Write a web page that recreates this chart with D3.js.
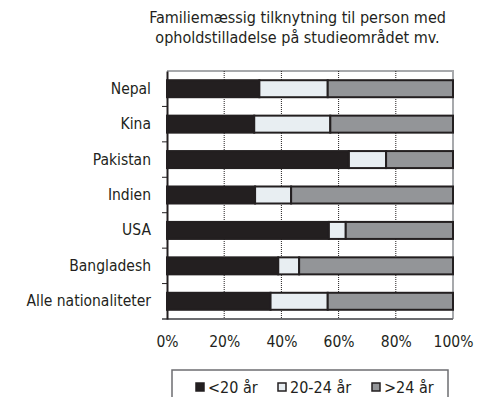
<!DOCTYPE html>
<html>
<head>
<meta charset="utf-8">
<script src="https://cdn.jsdelivr.net/npm/d3@7"></script>
<style>
  html, body { margin: 0; padding: 0; background: #fff; }
  svg { display: block; font-family: "DejaVu Sans Condensed", "DejaVu Sans", sans-serif; font-stretch: condensed; }
</style>
</head>
<body>
<svg id="chart" width="480" height="397"></svg>
<script>
// Nationality groups, top to bottom
const categories = ["Nepal", "Kina", "Pakistan", "Indien", "USA", "Bangladesh", "Alle nationaliteter"];
// Share (%) in each age group
const under20 = [32.3, 30.5, 63.6, 30.8, 56.6, 38.9, 36.2];
const age20to24 = [23.9, 26.6, 13.0, 12.6, 5.9, 7.3, 20.0];
const over24 = [43.8, 42.9, 23.4, 56.6, 37.5, 53.8, 43.8];
const seriesNames = ["<20 år", "20-24 år", ">24 år"];
const seriesColors = ["#231f20", "#e8eef2", "#939598"];
const xTicks = [0, 20, 40, 60, 80, 100];
const titleLines = ["Familiemæssig tilknytning til person med", "opholdstilladelse på studieområdet mv."];

const FONT = "'DejaVu Sans Condensed', 'DejaVu Sans', sans-serif";
const svg = d3.select("#chart");
const margin = { left: 167, right: 27, top: 71, bottom: 78 };
const W = 480, H = 397;
const innerW = W - margin.left - margin.right;
const innerH = H - margin.top - margin.bottom;

const rows = categories.map((c, i) => ({ cat: c, "<20 år": under20[i], "20-24 år": age20to24[i], ">24 år": over24[i] }));
const stack = d3.stack().keys(seriesNames)(rows);

const x = d3.scaleLinear().domain([0, 100]).range([margin.left, margin.left + innerW]);
const y = d3.scaleBand().domain(categories).range([margin.top, margin.top + innerH]).paddingInner(0.52).paddingOuter(0.26);
const yb = d3.scaleBand().domain(categories).range([margin.top, margin.top + innerH]);

// Title
svg.append("g").selectAll("text").data(titleLines).join("text")
  .attr("x", 297.5).attr("y", 23).attr("dy", (d, i) => i * 20)
  .attr("text-anchor", "middle").attr("font-size", 16).attr("fill", "#231f20")
  .text(d => d);

// Plot frame (top and right)
svg.append("path")
  .attr("d", `M${x(0)},${margin.top}H${x(100)}V${margin.top + innerH}`)
  .attr("fill", "none").attr("stroke", "#a7a9ac").attr("stroke-width", 2);

// Vertical dotted gridlines
svg.append("g").selectAll("line").data(xTicks.slice(1, -1)).join("line")
  .attr("x1", d => x(d)).attr("x2", d => x(d))
  .attr("y1", margin.top).attr("y2", margin.top + innerH)
  .attr("stroke", "#231f20").attr("stroke-width", 1).attr("stroke-dasharray", "1,1");

// Stacked bars
svg.append("g").selectAll("g").data(stack).join("g")
  .attr("fill", (d, i) => seriesColors[i])
  .selectAll("rect").data(d => d).join("rect")
  .attr("x", d => x(d[0])).attr("width", d => x(d[1]) - x(d[0]))
  .attr("y", d => y(d.data.cat)).attr("height", y.bandwidth())
  .attr("stroke", "#231f20").attr("stroke-width", 2);

// X axis
const xAxis = svg.append("g").attr("transform", `translate(0,${margin.top + innerH})`)
  .call(d3.axisBottom(x).tickValues(xTicks).tickFormat(d => d + "%").tickSize(0).tickPadding(17));
xAxis.select(".domain").attr("stroke", "#6d6e71").attr("stroke-width", 2).attr("d", `M${x(0) - 5},0H${x(100)}`);
xAxis.selectAll("text").attr("font-size", 15.5).attr("fill", "#231f20").attr("font-family", FONT);

// Y axis
const yAxis = svg.append("g").attr("transform", `translate(${margin.left},0)`)
  .call(d3.axisLeft(yb).tickSize(0).tickPadding(16));
yAxis.select(".domain").attr("stroke", "#231f20").attr("stroke-width", 2);
yAxis.selectAll("text").attr("font-size", 15.5).attr("fill", "#231f20").attr("font-family", FONT);
// Category separator ticks
svg.append("g").selectAll("line").data(categories.slice(1)).join("line")
  .attr("x1", margin.left - 5).attr("x2", margin.left)
  .attr("y1", d => yb(d)).attr("y2", d => yb(d))
  .attr("stroke", "#231f20").attr("stroke-width", 1);

// Legend
const legend = svg.append("g");
legend.append("rect").attr("x", 172).attr("y", 370).attr("width", 276).attr("height", 40)
  .attr("fill", "none").attr("stroke", "#6d6e71").attr("stroke-width", 1.5);
const legendX = [196, 278, 372];
const items = legend.selectAll("g.item").data(seriesNames).join("g").attr("class", "item")
  .attr("transform", (d, i) => `translate(${legendX[i]},387)`);
items.append("rect").attr("x", 0).attr("y", -4).attr("width", 8).attr("height", 8)
  .attr("fill", (d, i) => seriesColors[i]).attr("stroke", "#231f20").attr("stroke-width", 1.5);
items.append("text").attr("x", 12).attr("y", 5.5).attr("font-size", 16).attr("fill", "#231f20")
  .text(d => d);
</script>
</body>
</html>
